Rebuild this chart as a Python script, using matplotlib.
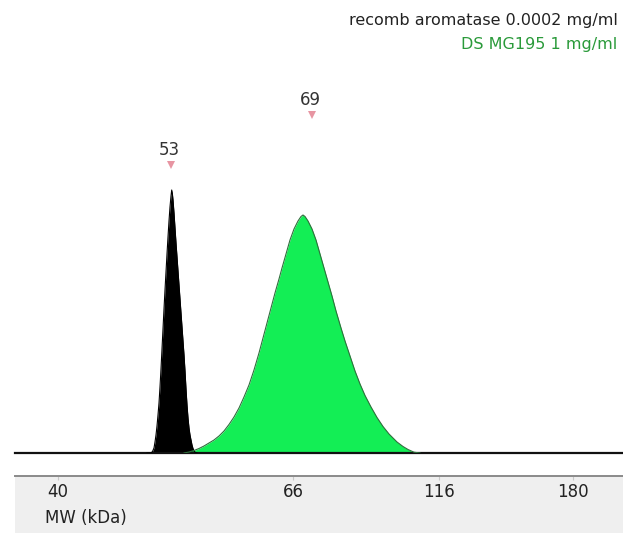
import matplotlib
matplotlib.use("Agg")
import matplotlib.pyplot as plt
import matplotlib.transforms as mtransforms

# ── trace data (migration position vs. signal) ────────────────────────────
REF_X = [147, 151, 152.5, 154, 155, 156, 157, 158, 159, 160, 161, 162, 163, 164,
         165, 166, 167, 168, 169, 170, 171, 171.7, 172.4, 173, 174, 175, 176,
         177, 178, 179, 180, 181, 182, 183, 184, 185, 186, 187, 188, 189, 190,
         191, 192, 193, 194, 195, 197]
REF_Y = [0, 0, 1.5, 5, 11, 18, 27, 38, 50, 66, 84, 104, 124, 144,
         163, 181, 199, 216, 232, 246, 257, 263, 259, 253, 240, 225, 210,
         196, 182, 168, 154, 140, 126, 112, 98, 82, 64, 48, 35, 25, 18,
         13, 8, 4.5, 2, 0.8, 0]

SAMPLE_X = [184, 189, 194, 199, 204, 209, 214, 219, 224, 229, 234, 239, 244,
            249, 254, 259, 263, 267, 271, 275, 279, 282, 286, 290, 294, 298,
            301, 303, 305, 308, 312, 316, 320, 324, 328, 332, 336, 341, 345,
            350, 355, 360, 365, 371, 377, 383, 389, 397, 403, 408, 414, 420]
SAMPLE_Y = [0, 1, 2.5, 4.5, 7, 10, 13, 17, 22, 28.5, 36, 45, 56,
            68, 83, 100, 115, 130, 145, 160, 174, 185, 199, 213, 224, 232,
            236.5, 238, 236.5, 232, 224, 213, 199, 185, 171, 157, 142, 125, 112,
            97, 82, 69, 57.5, 46, 35.5, 26.5, 19, 11, 6.5, 3.5, 0.8, 0]

# MW ladder markers along the lower strip
LADDER_POS = [58, 293, 439, 573]
LADDER_MW = ["40", "66", "116", "180"]

# called peaks
PEAK_POS = [171, 312]
PEAK_MW = ["53", "69"]
PEAK_LABEL_Y = [303, 353]
PEAK_MARK_Y = [288, 338]

REF_NAME = "recomb aromatase 0.0002 mg/ml"
SAMPLE_NAME = "DS MG195 1 mg/ml"

GREEN = "#13ee55"
GREEN_EDGE = "#2f6f3c"

fig = plt.figure(figsize=(6.23, 5.33), dpi=100)
W, H = 623, 533

# main electropherogram panel
ax = fig.add_axes([15 / W, 80 / H, 1 - 15 / W, 453 / H])
ax.set_xlim(15, 623)
ax.set_ylim(0, 453)
for s in ("top", "right", "left"):
    ax.spines[s].set_visible(False)
ax.spines["bottom"].set_color("#111111")
ax.spines["bottom"].set_linewidth(1.6)
ax.set_xticks([])
ax.set_yticks([])

ax.fill_between(REF_X, REF_Y, 0, color="black", linewidth=0, zorder=2)
ax.plot(REF_X, REF_Y, color="black", linewidth=0.8, zorder=3)
ax.fill_between(SAMPLE_X, SAMPLE_Y, 0, color=GREEN, linewidth=0, zorder=2)
ax.plot(SAMPLE_X, SAMPLE_Y, color=GREEN_EDGE, linewidth=0.8, zorder=3)

for x, lab, ly, my in zip(PEAK_POS, PEAK_MW, PEAK_LABEL_Y, PEAK_MARK_Y):
    ax.text(x - 2, ly, lab, ha="center", va="center", fontsize=12, color="#333333")
    ax.plot(x, my, marker="v", markersize=6, color="#e58a98",
            markeredgewidth=0, alpha=0.9)

# sample names, top right
fig.text(618 / W, 1 - 21 / H, REF_NAME, ha="right", va="center",
         fontsize=11.5, color="#222222")
fig.text(617 / W, 1 - 44 / H, SAMPLE_NAME, ha="right", va="center",
         fontsize=11.5, color="#2a9a3a")

# lower MW strip
ax2 = fig.add_axes([15 / W, 0, 1 - 15 / W, 57 / H])
ax2.set_xlim(15, 623)
ax2.set_ylim(0, 1)
ax2.set_facecolor("#efefef")
for s in ("bottom", "right", "left"):
    ax2.spines[s].set_visible(False)
ax2.spines["top"].set_color("#8a8a8a")
ax2.spines["top"].set_linewidth(1.4)
ax2.set_yticks([])
ax2.set_xticks(LADDER_POS)
ax2.tick_params(axis="x", bottom=False, top=True, labelbottom=False,
                direction="in", length=3, color="#c8c8c8")
trans = mtransforms.blended_transform_factory(ax2.transData, ax2.transAxes)
for x, lab in zip(LADDER_POS, LADDER_MW):
    ax2.text(x, 0.72, lab, transform=trans, ha="center", va="center",
             fontsize=12, color="#222222")
ax2.text(45, 0.26, "MW (kDa)", transform=trans, ha="left", va="center",
         fontsize=12, color="#222222")

fig.savefig("out.png", dpi=100, facecolor="white")
